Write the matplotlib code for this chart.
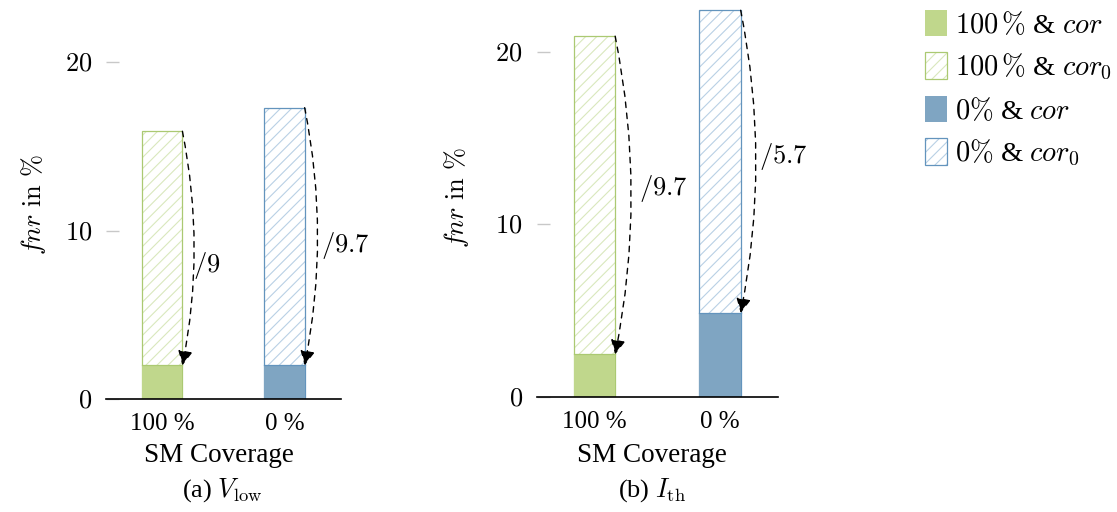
import matplotlib
matplotlib.use("Agg")
import matplotlib.pyplot as plt
from matplotlib.patches import Patch

plt.rcParams['mathtext.fontset'] = 'cm'
plt.rcParams['font.family'] = ['Liberation Serif', 'DejaVu Serif']
plt.rcParams['hatch.linewidth'] = 0.8

# ---- data ----
categories = ['100 %', '0 %']
# panel (a) V_low
a_cor0 = [15.9, 17.3]
a_cor = [2.0, 2.0]
a_ratio = ['/9', '/9.7']
# panel (b) I_th
b_cor0 = [20.9, 22.4]
b_cor = [2.45, 4.85]
b_ratio = ['/9.7', '/5.7']
yticks = [0, 10, 20]
legend_labels = [r'$100\,\%$ & $cor$', r'$100\,\%$ & $cor_0$',
                 r'$0\%$ & $cor$', r'$0\%$ & $cor_0$']

solid_colors = ['#c0d78c', '#7fa5c2']
edge_colors = ['#abc972', '#6394bd']
hatch_colors = ['#d9e8bd', '#b9d0e5']

W, H = 1117, 512
fig = plt.figure(figsize=(W / 100, H / 100), dpi=100)


def panel(rect, cor0, cor, ratios, ylim, label_dx, label_dy):
    ax = fig.add_axes(rect)
    x = list(range(len(categories)))
    width = 0.33
    for i in x:
        ax.bar(i, cor0[i], width, color='white', edgecolor=hatch_colors[i],
               hatch='///', linewidth=0, zorder=1)
        ax.bar(i, cor0[i], width, fill=False, edgecolor=edge_colors[i],
               linewidth=0.9, zorder=2)
        ax.bar(i, cor[i], width, color=solid_colors[i], linewidth=0, zorder=3)
        ax.plot([i - width / 2, i + width / 2], [cor[i], cor[i]],
                color=edge_colors[i], lw=0.9, zorder=4)
        xe = i + width / 2
        ax.annotate('', xy=(xe, cor[i]), xytext=(xe, cor0[i]),
                    arrowprops=dict(arrowstyle='-|>', linestyle=(0, (4, 4)),
                                    connectionstyle='arc3,rad=-0.1',
                                    color='black', lw=1.0, mutation_scale=22,
                                    shrinkA=0, shrinkB=0), zorder=5)
        ax.text(xe + label_dx[i], (cor[i] + cor0[i]) / 2 + label_dy[i],
                '$' + ratios[i] + '$', ha='left', va='center', fontsize=19)
    ax.set_xlim(-0.46, 1.46)
    ax.set_ylim(*ylim)
    ax.set_xticks(x)
    ax.set_xticklabels(categories, fontsize=18)
    ax.set_yticks(yticks)
    ax.set_yticklabels(['$%d$' % t for t in yticks], fontsize=19)
    ax.tick_params(axis='x', length=0, pad=10)
    ax.tick_params(axis='y', direction='in', length=9.5, width=1,
                   color='#c8c8c8', pad=10)
    for s in ['left', 'right', 'top']:
        ax.spines[s].set_visible(False)
    ax.spines['bottom'].set_linewidth(1.2)
    ax.spines['bottom'].set_zorder(6)
    return ax


ax_a = panel([106 / W, 113 / H, 234.7 / W, 22 * 16.84 / H], a_cor0, a_cor, a_ratio,
             (0, 22), [0.09, 0.13], [-1.0, -0.55])
ax_b = panel([536.7 / W, 115.3 / H, 241 / W, 22.5 * 17.25 / H], b_cor0, b_cor, b_ratio,
             (0, 22.5), [0.19, 0.15], [0.4, 0.3])

fig.text(33 / W, 1 - 205 / H, r'$fnr\ \mathrm{in}\ \%$', rotation=90,
         ha='center', va='center', fontsize=19)
fig.text(456.7 / W, 1 - 198 / H, r'$fnr\ \mathrm{in}\ \%$', rotation=90,
         ha='center', va='center', fontsize=19)
fig.text(219 / W, 1 - 455 / H, 'SM Coverage', ha='center', va='center', fontsize=19.5)
fig.text(652 / W, 1 - 455 / H, 'SM Coverage', ha='center', va='center', fontsize=19.5)
fig.text(222 / W, 1 - 490 / H, r'(a) $V_{\mathrm{low}}$', ha='center', va='center', fontsize=19)
fig.text(652 / W, 1 - 490 / H, r'(b) $I_{\mathrm{th}}$', ha='center', va='center', fontsize=19)

handles = [
    Patch(facecolor=solid_colors[0], edgecolor='none'),
    (Patch(facecolor='white', edgecolor=hatch_colors[0], hatch='///', linewidth=0),
     Patch(fill=False, edgecolor=edge_colors[0], linewidth=0.9)),
    Patch(facecolor=solid_colors[1], edgecolor='none'),
    (Patch(facecolor='white', edgecolor=hatch_colors[1], hatch='///', linewidth=0),
     Patch(fill=False, edgecolor=edge_colors[1], linewidth=0.9)),
]
fig.legend(handles, legend_labels, loc='upper left',
           bbox_to_anchor=(919 / W, 1 - 4 / H), frameon=False, fontsize=20.5,
           handlelength=0.77, handleheight=1.06, labelspacing=0.47,
           handletextpad=0.28, borderaxespad=0, borderpad=0.2)

fig.savefig('out.png', dpi=100)
